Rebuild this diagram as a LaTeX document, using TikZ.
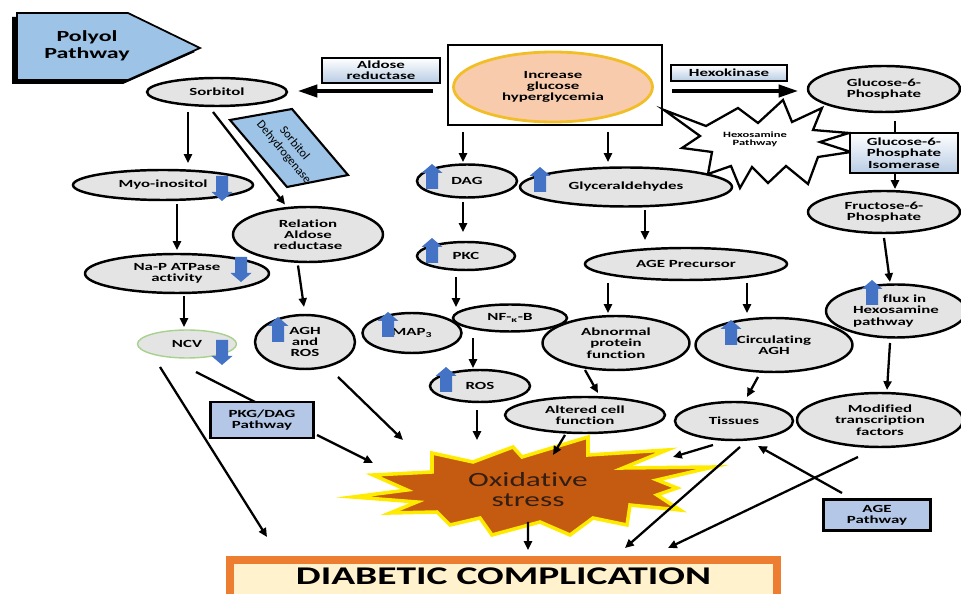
\documentclass[tikz,border=0pt]{standalone}
\usepackage{fontspec}
\setmainfont{Carlito}[FakeStretch=1.55, Ligatures=NoCommon]
\newfontfamily\plainfont{Carlito}[Ligatures=NoCommon]
\usetikzlibrary{shapes.geometric,arrows.meta,calc}

\definecolor{ellfill}{RGB}{228,228,228}
\definecolor{hgfill}{RGB}{248,203,173}
\definecolor{hgline}{RGB}{242,190,40}
\definecolor{boxblue}{RGB}{184,204,228}
\definecolor{pathblue}{RGB}{180,199,231}
\definecolor{polyblue}{RGB}{157,195,230}
\definecolor{iconblue}{RGB}{68,114,196}
\definecolor{oxfill}{RGB}{197,90,17}
\definecolor{oxline}{RGB}{255,235,0}
\definecolor{oxtext}{RGB}{50,30,20}
\definecolor{diabline}{RGB}{237,125,49}
\definecolor{diabfill}{RGB}{255,242,204}
\definecolor{ncvline}{RGB}{169,209,142}

\newcommand{\lblfont}{\fontsize{6.2}{6.4}\selectfont\bfseries}

\tikzset{
  ell/.style={ellipse, draw, fill=ellfill, line width=1.4pt, inner sep=0pt, align=center, font=\lblfont},
  gradbox/.style={rectangle, draw, line width=1.5pt, top color=white, bottom color=boxblue, inner sep=0pt, align=center, font=\lblfont},
  pathbox/.style={rectangle, draw, line width=1.5pt, fill=pathblue, inner sep=0pt, align=center, font=\lblfont},
  arr/.style={-{Triangle[length=5pt,width=4.5pt]}, line width=1.3pt},
  bigarr/.style={-{Triangle[length=11pt,width=7pt]}, line width=1.8pt},
  ln/.style={line width=1.3pt},
  upicon/.pic={\fill[iconblue] (0,0) -- (10.5,9) -- (6,9) -- (6,25) -- (-6,25) -- (-6,9) -- (-10.5,9) -- cycle;},
  dnicon/.pic={\fill[iconblue] (-6,0) -- (6,0) -- (6,16) -- (10.5,16) -- (0,25) -- (-10.5,16) -- (-6,16) -- cycle;}
}

\begin{document}
\begin{tikzpicture}[x=0.02cm, y=-0.02cm]
\useasboundingbox (0,0) rectangle (961,594);

% polyol pathway tag
\fill[shift={(-5,4)}] (17,13) -- (128,13) -- (200,48) -- (128,80) -- (17,80) -- cycle;
\draw[fill=polyblue, line width=1pt, line join=miter] (17,13) -- (128,13) -- (200,48) -- (128,80) -- (17,80) -- cycle;
\node[font=\fontsize{8.8}{9.5}\selectfont\bfseries, align=center] (polyol) at (87,46) {Polyol\\Pathway};

% stars
\draw[line width=1.3pt, fill=white, line join=miter] (664,110) -- (706,126) -- (738,108) -- (758,123) -- (783,100) -- (792,122) -- (822,108) -- (813,130) -- (849,133) -- (820,142) -- (851,152) -- (818,157) -- (808,184) -- (786,166) -- (768,183) -- (752,167) -- (740,188) -- (731,166) -- (708,174) -- (712,152) -- (682,148) -- (700,136) -- cycle;
\node[font=\fontsize{4.6}{4.6}\selectfont\bfseries, align=center] (hxp) at (755,139) {Hexosamine\\Pathway};

\draw[fill=oxfill, draw=oxline, line width=2pt, line join=miter] (353,497) -- (407,490) -- (373,475) -- (432,472) -- (432,453) -- (473,462) -- (513,447) -- (522,457) -- (588,437) -- (588,455) -- (667,450) -- (623,468) -- (713,467) -- (657,480) -- (677,488) -- (657,495) -- (680,510) -- (630,505) -- (627,525) -- (593,518) -- (570,535) -- (540,522) -- (492,535) -- (480,518) -- (450,525) -- (437,512) -- (390,513) -- (417,502) -- cycle;
\node[font=\fontsize{11.5}{11.4}\selectfont, text=oxtext, align=center] (ox) at (528,490) {Oxidative\\stress};

% sorbitol dehydrogenase tag
\draw[fill=polyblue, line width=1.2pt] (230,120) -- (292,109) -- (348,175) -- (287,187) -- cycle;
\node[rotate=-50, font=\plainfont\fontsize{7}{8}\selectfont, align=center] (sdh) at (289,148) {Sorbitol\\Dehydrogenase};

% diabetic complication
\draw[draw=diabline, fill=diabfill, line width=4.5pt] (230,560) rectangle (777,620);
\node[font=\fontsize{14.5}{15}\selectfont\bfseries] (diab) at (503.5,576) {DIABETIC COMPLICATION};

% central box
\node[rectangle, draw, line width=1.6pt, minimum width=4.28cm, minimum height=1.6cm] (hgbox) at (555,85) {};
\node[ellipse, draw=hgline, fill=hgfill, line width=1.6pt, minimum width=3.98cm, minimum height=1.4cm, inner sep=0pt, align=center, font=\lblfont] (hg) at (553,87) {Increase\\glucose\\hyperglycemia};

% boxes
\node[gradbox, minimum width=2.36cm, minimum height=0.5cm] (aldred) at (381,70.5) {Aldose\\reductase};
\node[gradbox, minimum width=2.32cm, minimum height=0.32cm] (hexo) at (729,73) {Hexokinase};
\node[gradbox, minimum width=2.16cm, minimum height=0.8cm] (iso) at (904,153) {Glucose-6-\\Phosphate\\Isomerase};
\node[pathbox, minimum width=2.06cm, minimum height=0.72cm] (pkg) at (262,420) {PKG/DAG\\Pathway};
\node[pathbox, minimum width=2.14cm, minimum height=0.62cm] (agep) at (877,515) {AGE\\Pathway};

% ellipses
\node[ell, minimum width=2.8cm, minimum height=0.56cm] (sorb) at (217,92) {Sorbitol};
\node[ell, minimum width=3.04cm, minimum height=0.92cm] (g6p) at (884,89) {Glucose-6-\\Phosphate};
\node[ell, minimum width=3.04cm, minimum height=0.84cm] (fru) at (884,212) {Fructose-6-\\Phosphate};
\node[ell, minimum width=3.6cm, minimum height=0.6cm] (myo) at (163,185) {Myo-inositol};
\node[ell, minimum width=3.0cm, minimum height=1.1cm] (rel) at (308,234.5) {Relation\\Aldose\\reductase};
\node[ell, minimum width=3.68cm, minimum height=0.78cm] (nap) at (177,273.5) {Na-P ATPase\\activity};
\node[ell, draw=ncvline, line width=0.8pt, minimum width=1.98cm, minimum height=0.56cm] (ncv) at (187,344) {NCV};
\node[ell, minimum width=2.0cm, minimum height=1.08cm] (agh) at (305,342) {AGH\\and\\ROS};
\node[ell, minimum width=2.0cm, minimum height=0.66cm] (dag) at (467,181) {DAG};
\node[ell, minimum width=4.24cm, minimum height=0.78cm] (glyc) at (626,187) {Glyceraldehydes};
\node[ell, minimum width=1.96cm, minimum height=0.56cm] (pkc) at (466,256) {PKC};
\node[ell, minimum width=4.04cm, minimum height=0.64cm] (age) at (686,264) {AGE Precursor};
\node[ell, minimum width=1.98cm, minimum height=0.8cm] (map) at (412,333) {MAP\textsubscript{3}};
\node[ell, minimum width=2.28cm, minimum height=0.54cm] (nfkb) at (510,318) {NF-\textsubscript{κ}-B};
\node[ell, minimum width=2.0cm, minimum height=0.64cm] (ros) at (480,386) {ROS};
\node[ell, minimum width=2.94cm, minimum height=1.08cm] (abn) at (616,343) {Abnormal\\protein\\function};
\node[ell, minimum width=3.2cm, minimum height=0.72cm] (alt) at (585,415) {Altered cell\\function};
\node[ell, minimum width=3.14cm, minimum height=1.08cm] (circ) at (774,345) {Circulating\\AGH};
\node[ell, minimum width=2.36cm, minimum height=0.76cm] (tis) at (734,421) {Tissues};
\node[ell, minimum width=2.8cm, minimum height=1.06cm, align=left] (flux) at (896,311) {\hspace*{17pt}flux in\\Hexosamine\\pathway};
\node[ell, minimum width=3.32cm, minimum height=1.08cm] (mod) at (880,420) {Modified\\transcription\\factors};

% up and down marks
\pic at (222,176) {dnicon};
\pic at (241,257) {dnicon};
\pic at (222,340) {dnicon};
\pic at (278,317) {upicon};
\pic at (432,164) {upicon};
\pic at (432,238) {upicon};
\pic at (388,312) {upicon};
\pic at (446,367) {upicon};
\pic at (540,167) {upicon};
\pic at (731,320) {upicon};
\pic at (872,280) {upicon};

% connectors
\draw[bigarr] ($(hgbox)+(-122,6)$) -- ($(sorb)+(81,-1)$);
\draw[bigarr] ($(hgbox)+(117,6)$) -- ($(g6p)+(-86,2)$);
\draw[arr] ($(hgbox)+(-92,47)$) -- ($(dag)+(-4,-19)$);
\draw[arr] ($(hgbox)+(53,47)$) -- ($(glyc)+(-18,-25)$);
\draw[ln] ($(g6p)+(11,32)$) -- ($(iso)+(-9,-20)$);
\draw[arr] ($(iso)+(-9,21)$) -- ($(fru)+(11,-23)$);
\draw[arr] ($(fru)+(0,26)$) -- ($(flux)+(-6,-29)$);
\draw[arr] ($(flux)+(-6,32)$) -- ($(mod)+(7,-30)$);
\draw[arr] ($(sorb)+(-29,20)$) -- ($(myo)+(25,-22)$);
\draw[arr] ($(sorb)+(-4,20)$) -- ($(rel)+(-23,-30)$);
\draw[arr] ($(myo)+(14,19)$) -- ($(nap)+(0,-23.5)$);
\draw[arr] ($(nap)+(7,22.5)$) -- ($(ncv)+(-3,-17)$);
\draw[arr] ($(rel)+(-10,31)$) -- ($(agh)+(-1,-35)$);
\draw[arr] ($(dag)+(-4,21)$) -- ($(pkc)+(-3,-24)$);
\draw[arr] ($(pkc)+(-10,21)$) -- ($(nfkb)+(-54,-11)$);
\draw[arr] ($(nfkb)+(-37,20)$) -- ($(ros)+(-7,-18)$);
\draw[arr] ($(glyc)+(19,23)$) -- ($(age)+(-41,-24)$);
\draw[arr] ($(age)+(-78,19)$) -- ($(abn)+(-8,-30)$);
\draw[arr] ($(age)+(61,19)$) -- ($(circ)+(-27,-32)$);
\draw[arr] ($(abn)+(-31,27)$) -- ($(alt)+(13,-22)$);
\draw[arr] ($(circ)+(-16,32)$) -- ($(tis)+(13,-24)$);
\draw[arr] ($(ncv)+(-27,23)$) -- ($(diab)+(-236.5,-39)$);
\draw[ln] ($(ncv)+(9,28)$) -- ($(pkg)+(-7,-18)$);
\draw[arr] ($(pkg)+(55,15)$) -- ($(ox)+(-155,-27)$);
\draw[arr] ($(agh)+(33,35)$) -- ($(ox)+(-125,-50)$);
\draw[arr] ($(ros)+(-3,24)$) -- ($(ox)+(-51,-50)$);
\draw[arr] ($(alt)+(-20,20)$) -- ($(ox)+(25,-35)$);
\draw[arr] ($(tis)+(-21,24)$) -- ($(ox)+(145,-33)$);
\draw[arr] ($(tis)+(6,26)$) -- ($(diab)+(121.5,-28)$);
\draw[arr] ($(agep)+(-35,-22)$) -- ($(tis)+(24,25)$);
\draw[arr] ($(mod)+(-22,37)$) -- ($(diab)+(164.5,-28)$);
\draw[arr] ($(ox)+(0,32)$) -- ($(diab)+(24.5,-26)$);
\end{tikzpicture}
\end{document}
